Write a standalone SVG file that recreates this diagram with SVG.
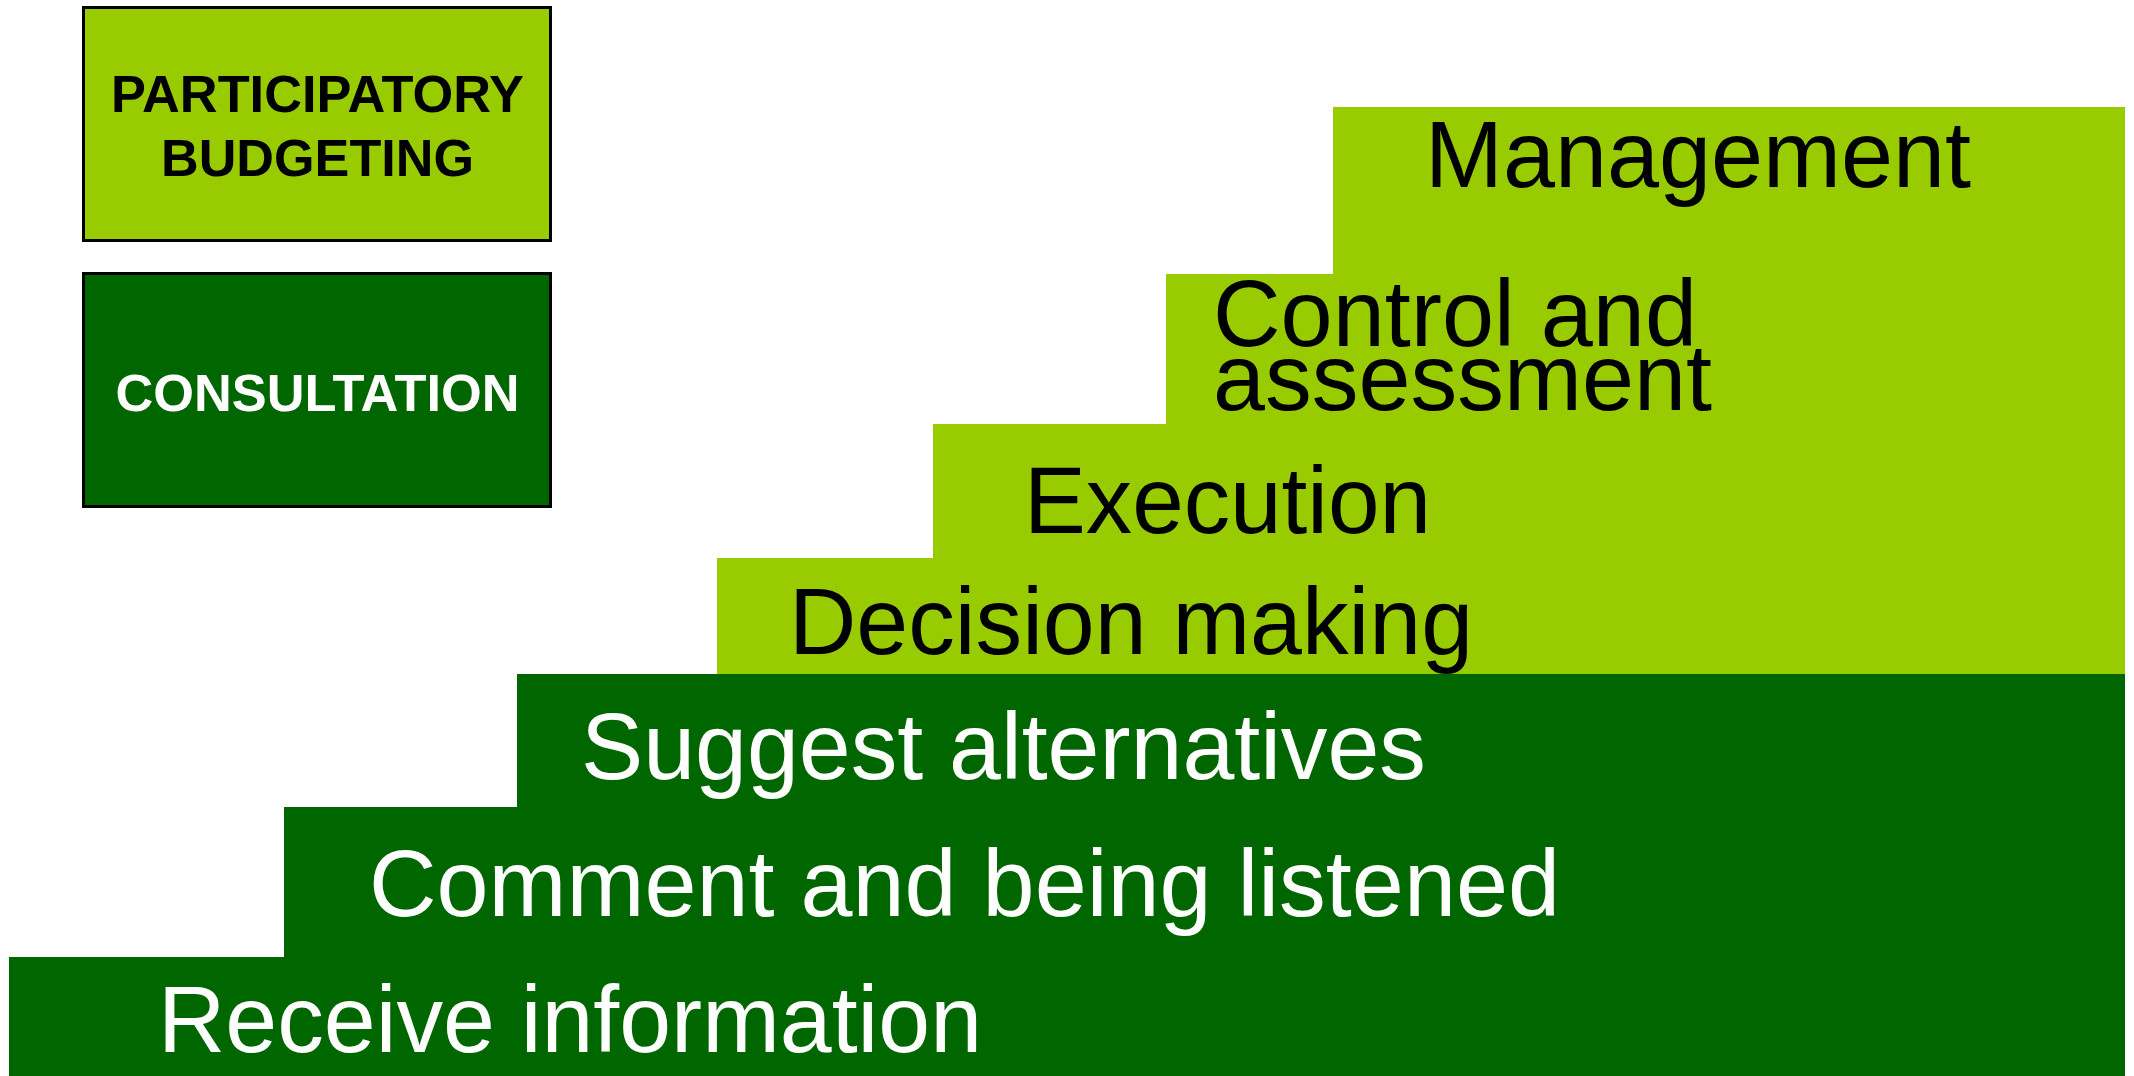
<svg xmlns="http://www.w3.org/2000/svg" width="2134" height="1076" viewBox="0 0 2134 1076">
<style>
.light{fill:#99CC00}
.dark{fill:#006600}
.box{stroke:#000;stroke-width:3}
.big{font-family:"Liberation Sans",Arial,sans-serif;font-size:95px}
.bk{fill:#000}
.wh{fill:#fff}
.lbl{font-family:"Liberation Sans",Arial,sans-serif;font-size:51px;font-weight:bold;text-anchor:middle}
</style>
<rect width="2134" height="1076" fill="#fff"/>
<g id="legend-participatory">
<rect class="light box" x="83.5" y="7.5" width="467" height="233"/>
<text class="lbl bk" x="317.5" y="112" textLength="413" lengthAdjust="spacingAndGlyphs">PARTICIPATORY</text>
<text class="lbl bk" x="317.5" y="176" textLength="313" lengthAdjust="spacingAndGlyphs">BUDGETING</text>
</g>
<g id="legend-consultation">
<rect class="dark box" x="83.5" y="273.5" width="467" height="233"/>
<text class="lbl wh" x="317.5" y="411" textLength="404" lengthAdjust="spacingAndGlyphs">CONSULTATION</text>
</g>
<g id="step-management">
<rect class="light" x="1333" y="107" width="792" height="168"/>
<text class="big bk" x="1425" y="187" textLength="546" lengthAdjust="spacingAndGlyphs">Management</text>
</g>
<g id="step-control">
<rect class="light" x="1166" y="274" width="959" height="151"/>
<text class="big bk" x="1213" y="346" textLength="484" lengthAdjust="spacingAndGlyphs">Control and</text>
<text class="big bk" x="1213" y="410" textLength="499" lengthAdjust="spacingAndGlyphs">assessment</text>
</g>
<g id="step-execution">
<rect class="light" x="933" y="424" width="1192" height="135"/>
<text class="big bk" x="1024" y="533" textLength="407" lengthAdjust="spacingAndGlyphs">Execution</text>
</g>
<g id="step-decision">
<rect class="light" x="717" y="558" width="1408" height="117"/>
<text class="big bk" x="789" y="654" textLength="684" lengthAdjust="spacingAndGlyphs">Decision making</text>
</g>
<g id="step-suggest">
<rect class="dark" x="517" y="674" width="1608" height="134"/>
<text class="big wh" x="581" y="779" textLength="845" lengthAdjust="spacingAndGlyphs">Suggest alternatives</text>
</g>
<g id="step-comment">
<rect class="dark" x="284" y="807" width="1841" height="151"/>
<text class="big wh" x="369" y="916" textLength="1191" lengthAdjust="spacingAndGlyphs">Comment and being listened</text>
</g>
<g id="step-receive">
<rect class="dark" x="9" y="957" width="2116" height="119"/>
<text class="big wh" x="158" y="1052" textLength="824" lengthAdjust="spacingAndGlyphs">Receive information</text>
</g>
<g id="connectors"></g>
</svg>
